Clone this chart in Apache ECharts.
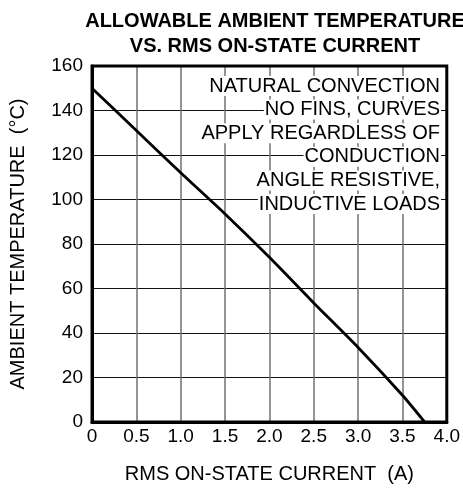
<!DOCTYPE html>
<html>
<head>
<meta charset="utf-8">
<script src="https://cdn.jsdelivr.net/npm/echarts@6/dist/echarts.min.js"></script>
<style>
  html, body { margin: 0; padding: 0; background: #fff; }
  #chart { width: 463px; height: 495px; }
</style>
</head>
<body>
<div id="chart"></div>
<script>
// RMS current (A) vs allowable ambient temperature (°C)
var currentA = [0, 0.5, 1.0, 1.5, 2.0, 2.5, 3.0, 3.5, 3.75];
var ambientC = [150, 131, 112, 93.5, 74, 53.5, 33.5, 12, 0];
var noteLines = [
  'NATURAL CONVECTION',
  'NO FINS, CURVES',
  'APPLY REGARDLESS OF',
  'CONDUCTION',
  'ANGLE RESISTIVE,',
  'INDUCTIVE LOADS'
];

var font = 'Liberation Sans, Arial, sans-serif';
var myChart = echarts.init(document.getElementById('chart'));

var curve = currentA.map(function (x, i) { return [x, ambientC[i]]; });

// note block: one white box per line so the grid shows between lines
var notes = noteLines.map(function (t, i) {
  return {
    type: 'text',
    right: 22,
    top: 76 + i * 23.6,
    z: 100,
    style: {
      text: t,
      font: '20px ' + font,
      fill: '#000',
      backgroundColor: '#fff',
      padding: [0, 1, 0, 1]
    }
  };
});

myChart.setOption({
  backgroundColor: '#fff',
  animation: false,
  title: {
    text: 'ALLOWABLE AMBIENT TEMPERATURE\nVS. RMS ON-STATE CURRENT',
    left: 270,
    top: 4,
    textAlign: 'center',
    textStyle: {
      fontFamily: font,
      fontWeight: 'bold',
      fontSize: 20,
      lineHeight: 25,
      color: '#000'
    }
  },
  grid: {
    left: 92,
    right: 15,
    top: 66,
    bottom: 73,
    show: true,
    borderColor: '#000',
    borderWidth: 3,
    z: 10
  },
  xAxis: {
    type: 'value',
    min: 0,
    max: 4,
    interval: 0.5,
    name: 'RMS ON-STATE CURRENT  (A)',
    nameLocation: 'middle',
    nameGap: 42,
    nameTextStyle: { fontFamily: font, fontSize: 20, color: '#000' },
    axisLine: { show: true, lineStyle: { color: '#000', width: 3 } },
    axisTick: { show: false },
    axisLabel: {
      fontFamily: font,
      fontSize: 19,
      color: '#000',
      margin: 5,
      formatter: function (v) { return v === 0 ? '0' : v.toFixed(1); }
    },
    splitLine: { show: true, lineStyle: { color: '#707070', width: 1.5 } }
  },
  yAxis: {
    type: 'value',
    min: 0,
    max: 160,
    interval: 20,
    name: 'AMBIENT TEMPERATURE  (°C)',
    nameLocation: 'middle',
    nameGap: 64,
    nameTextStyle: { fontFamily: font, fontSize: 20, color: '#000' },
    axisLine: { show: true, lineStyle: { color: '#000', width: 3 } },
    axisTick: { show: false },
    axisLabel: {
      fontFamily: font,
      fontSize: 19,
      color: '#000',
      margin: 9
    },
    splitLine: { show: true, lineStyle: { color: '#111', width: 1 } }
  },
  graphic: notes,
  series: [{
    type: 'line',
    data: curve,
    smooth: 0.2,
    symbol: 'none',
    clip: true,
    z: 20,
    lineStyle: { color: '#000', width: 2.8 }
  }]
});
</script>
</body>
</html>
